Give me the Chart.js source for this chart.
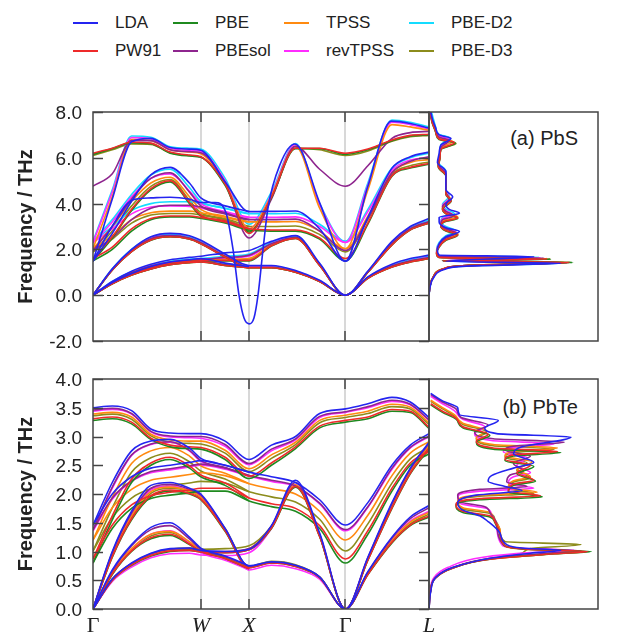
<!DOCTYPE html>
<html>
<head>
<meta charset="utf-8">
<title>PbS / PbTe phonons</title>
<script src="https://cdn.jsdelivr.net/npm/chart.js@4.4.1/dist/chart.umd.min.js"></script>
<style>
  html, body { margin: 0; background: #fff; }
  body { position: relative; width: 621px; height: 633px; overflow: hidden;
         font-family: "Liberation Sans", Arial, sans-serif; color: #222; }
  canvas { position: absolute; }
  .key { position: absolute; height: 20px; font-size: 17px; line-height: 20px; white-space: nowrap; }
  .key i { position: absolute; left: 0; top: 9px; width: 25px; height: 2px; }
  .key span { position: absolute; left: 42px; top: 0; }
  .tag { position: absolute; right: 43px; font-size: 20px; line-height: 20px; }
</style>
</head>
<body>
<div id="legend"></div>
<div class="tag" style="top:128px">(a) PbS</div>
<div class="tag" style="top:397px">(b) PbTe</div>
<canvas id="bandPbS" width="440" height="250" style="left:0;top:100px"></canvas>
<canvas id="dosPbS" width="190" height="250" style="left:420px;top:100px"></canvas>
<canvas id="bandPbTe" width="440" height="263" style="left:0;top:370px"></canvas>
<canvas id="dosPbTe" width="190" height="263" style="left:420px;top:370px"></canvas>
<script>
// functionals, in legend order (column by column)
const functionals = ['LDA', 'PW91', 'PBE', 'PBEsol', 'TPSS', 'revTPSS', 'PBE-D2', 'PBE-D3'];
const lineColors = ['#2424f0', '#ee2a2a', '#1f8a1f', '#8e258e', '#ff8a10', '#ff2cff', '#14dcff', '#8c8c1c'];

// high-symmetry path (distance along the path)
const symLabels = ['Γ', 'W', 'X', 'Γ', 'L'];
const symX = [0, 1.118, 1.618, 2.618, 3.484];
// sampling points along the path used for every branch
const kpath = [0, 0.2, 0.4, 0.6, 0.8, 1.0, 1.118, 1.37, 1.618, 1.85, 2.1, 2.35, 2.618, 2.85, 3.1, 3.29, 3.484];

// ---- PbS branches (THz): LO, TO1, TO2, LA, TA1, TA2 ----
const pbsLDA = [
  [1.48, 4.2, 6.7, 6.85, 6.45, 6.38, 6.33, 4.95, 3.65, 3.66, 3.68, 2.9, 1.48, 3.4, 5.55, 6.05, 6.25],
  [1.48, 2.7, 4.1, 5.25, 5.58, 4.9, 4.25, 3.9, 3.65],
  [0, 1.15, 2.0, 2.55, 2.7, 2.6, 2.4, 1.8, 1.3, 1.3, 1.08, 0.65, 0, 1.05, 2.35, 3.0, 3.35],
  [0, 0.6, 1.05, 1.35, 1.55, 1.65, 1.7, 1.85, 1.95, 2.35, 2.6, 1.4, 0, 0.8, 1.35, 1.6, 1.75],
  [0, 0.55, 0.95, 1.25, 1.45, 1.55, 1.6, 1.4, 1.25]
];
// LDA branch that goes soft (imaginary) at X
const pbsLdaSoftX = [0, 0.197, 0.404, 0.601, 0.798, 0.995, 1.118, 1.265, 1.379, 1.452, 1.514, 1.566, 1.618,
  1.669, 1.711, 1.763, 1.814, 1.939, 2.094, 2.354, 2.618, 2.846, 3.094, 3.291, 3.484];
const pbsLdaSoftF = [1.48, 3.0, 4.15, 4.25, 4.28, 4.2, 4.05, 4.05, 3.6, 2.0, 0.0, -1.0, -1.25,
  -1.0, 0.0, 2.0, 3.8, 5.7, 6.6, 4.0, 1.48, 4.7, 7.6, 7.5, 7.3];
const pbsPW91 = [
  [6.2, 6.42, 6.68, 6.64, 6.25, 6.12, 6.05, 4.85, 2.7, 4.28, 6.42, 6.42, 6.2, 6.38, 6.78, 6.98, 7.03],
  [1.6, 2.1, 2.9, 3.35, 3.46, 3.46, 3.4, 3.2, 2.9, 2.85, 2.85, 2.5, 1.6, 3.15, 5.22, 5.58, 5.75],
  [1.6, 2.55, 3.75, 4.65, 5.0, 4.05, 3.5, 3.25, 2.9],
  [0, 1.1, 1.9, 2.41, 2.55, 2.45, 2.25, 1.67, 1.2, 1.2, 1.0, 0.6, 0, 1.0, 2.2, 2.85, 3.15],
  [0, 0.55, 0.95, 1.22, 1.4, 1.48, 1.5, 1.52, 1.52, 2.16, 2.48, 1.3, 0, 0.74, 1.23, 1.45, 1.6],
  [0, 0.5, 0.88, 1.15, 1.33, 1.42, 1.45, 1.3, 1.2]
];
const pbsPBE = [
  [6.15, 6.4, 6.65, 6.62, 6.2, 6.08, 6.02, 4.8, 2.75, 4.25, 6.4, 6.4, 6.15, 6.35, 6.75, 6.95, 7.0],
  [1.5, 2.0, 2.8, 3.3, 3.42, 3.42, 3.35, 3.15, 2.85, 2.8, 2.8, 2.45, 1.5, 3.1, 5.2, 5.55, 5.72],
  [1.5, 2.5, 3.7, 4.6, 4.95, 4.0, 3.45, 3.2, 2.85],
  [0, 1.1, 1.9, 2.4, 2.55, 2.45, 2.25, 1.67, 1.2, 1.2, 1.0, 0.6, 0, 1.0, 2.2, 2.85, 3.15],
  [0, 0.55, 0.95, 1.22, 1.4, 1.48, 1.5, 1.5, 1.5, 2.15, 2.48, 1.3, 0, 0.74, 1.23, 1.45, 1.6],
  [0, 0.5, 0.88, 1.15, 1.33, 1.42, 1.45, 1.3, 1.2]
];
const pbsPBEsol = [
  [4.76, 5.3, 6.75, 6.75, 6.35, 6.27, 6.22, 4.9, 2.5, 4.2, 6.5, 5.5, 4.76, 5.65, 6.85, 7.1, 7.15],
  [1.95, 2.5, 3.3, 3.8, 3.93, 3.93, 3.85, 3.6, 3.3, 3.3, 3.32, 2.8, 1.95, 3.35, 5.35, 5.85, 6.05],
  [1.95, 3.0, 4.2, 5.1, 5.35, 4.5, 3.9, 3.55, 3.3],
  [0, 1.12, 1.95, 2.47, 2.6, 2.5, 2.3, 1.7, 1.22, 1.22, 1.02, 0.61, 0, 1.02, 2.25, 2.9, 3.22],
  [0, 0.57, 0.98, 1.27, 1.45, 1.53, 1.56, 1.65, 1.75, 2.25, 2.53, 1.34, 0, 0.76, 1.27, 1.5, 1.65],
  [0, 0.52, 0.9, 1.18, 1.37, 1.46, 1.49, 1.33, 1.22]
];
const pbsTPSS = [
  [2.03, 4.3, 6.8, 6.75, 6.35, 6.25, 6.18, 4.9, 2.9, 4.35, 6.5, 3.8, 2.03, 4.6, 7.45, 7.35, 7.2],
  [2.03, 2.6, 3.3, 3.6, 3.67, 3.67, 3.6, 3.4, 3.2, 3.2, 3.22, 2.8, 2.03, 3.45, 5.35, 5.8, 5.92],
  [2.03, 3.0, 4.1, 4.9, 5.15, 4.3, 3.75, 3.45, 3.2],
  [0, 1.11, 1.93, 2.45, 2.58, 2.48, 2.28, 1.7, 1.21, 1.21, 1.01, 0.61, 0, 1.01, 2.23, 2.88, 3.2],
  [0, 0.56, 0.97, 1.25, 1.43, 1.5, 1.53, 1.56, 1.6, 2.2, 2.5, 1.32, 0, 0.75, 1.25, 1.47, 1.62],
  [0, 0.51, 0.89, 1.16, 1.35, 1.44, 1.47, 1.31, 1.21]
];
const pbsRevTPSS = [
  [2.3, 4.5, 6.88, 6.82, 6.42, 6.33, 6.28, 5.0, 2.9, 4.4, 6.58, 3.95, 2.3, 4.8, 7.55, 7.45, 7.25],
  [2.3, 2.9, 3.55, 3.85, 3.9, 3.88, 3.8, 3.6, 3.4, 3.4, 3.42, 3.0, 2.3, 3.65, 5.45, 5.9, 6.0],
  [2.3, 3.2, 4.3, 5.1, 5.3, 4.55, 4.0, 3.65, 3.4],
  [0, 1.12, 1.95, 2.48, 2.6, 2.5, 2.3, 1.72, 1.23, 1.23, 1.03, 0.62, 0, 1.03, 2.26, 2.9, 3.22],
  [0, 0.58, 0.99, 1.27, 1.45, 1.53, 1.56, 1.62, 1.7, 2.25, 2.53, 1.33, 0, 0.76, 1.27, 1.5, 1.66],
  [0, 0.53, 0.91, 1.18, 1.37, 1.46, 1.49, 1.32, 1.23]
];
const pbsD2 = [
  [2.35, 4.6, 6.95, 6.9, 6.48, 6.42, 6.38, 5.1, 3.1, 4.5, 6.62, 4.0, 2.35, 4.9, 7.65, 7.55, 7.35],
  [2.35, 3.0, 3.7, 4.0, 4.08, 4.08, 4.0, 3.8, 3.56, 3.56, 3.58, 3.1, 2.35, 3.75, 5.55, 6.0, 6.2],
  [2.35, 3.3, 4.4, 5.25, 5.5, 4.7, 4.1, 3.8, 3.56],
  [0, 1.15, 2.0, 2.52, 2.65, 2.55, 2.35, 1.75, 1.25, 1.26, 1.05, 0.63, 0, 1.05, 2.3, 2.95, 3.28],
  [0, 0.6, 1.02, 1.3, 1.48, 1.57, 1.6, 1.7, 1.8, 2.3, 2.58, 1.36, 0, 0.78, 1.3, 1.55, 1.7],
  [0, 0.55, 0.93, 1.2, 1.4, 1.5, 1.53, 1.35, 1.25]
];
const pbsD3 = [
  [6.1, 6.35, 6.6, 6.58, 6.22, 6.1, 6.03, 4.85, 2.8, 4.3, 6.42, 6.35, 6.1, 6.3, 6.72, 6.92, 6.98],
  [1.89, 2.45, 3.15, 3.5, 3.57, 3.57, 3.5, 3.3, 3.0, 3.0, 3.02, 2.65, 1.89, 3.3, 5.28, 5.65, 5.82],
  [1.89, 2.8, 3.9, 4.75, 5.05, 4.15, 3.6, 3.35, 3.0],
  [0, 1.1, 1.91, 2.42, 2.56, 2.46, 2.26, 1.68, 1.2, 1.2, 1.0, 0.6, 0, 1.0, 2.21, 2.86, 3.17],
  [0, 0.55, 0.96, 1.23, 1.41, 1.49, 1.51, 1.53, 1.58, 2.18, 2.49, 1.31, 0, 0.75, 1.24, 1.46, 1.61],
  [0, 0.5, 0.88, 1.15, 1.34, 1.43, 1.46, 1.3, 1.2]
];

// ---- PbTe branches (THz): LO, TO1, TO2, LA, TA1, TA2 ----
const pbteLDA = [
  [3.5, 3.53, 3.45, 3.13, 3.06, 3.05, 3.05, 2.92, 2.6, 2.85, 3.0, 3.4, 3.48, 3.57, 3.68, 3.6, 3.33],
  [1.46, 2.0, 2.3, 2.45, 2.5, 2.55, 2.58, 2.5, 2.38, 2.3, 2.2, 1.9, 1.46, 1.85, 2.5, 2.85, 3.05],
  [1.46, 2.2, 2.75, 2.92, 2.95, 2.8, 2.62, 2.5, 2.38],
  [0, 1.0, 1.7, 2.15, 2.2, 2.1, 2.0, 1.4, 0.75, 0.82, 0.76, 0.56, 0, 0.9, 1.85, 2.45, 2.9],
  [0, 0.52, 0.8, 0.97, 1.05, 1.06, 1.02, 1.0, 1.04, 1.45, 2.24, 1.32, 0, 0.65, 1.25, 1.6, 1.8],
  [0, 0.68, 1.12, 1.42, 1.5, 1.25, 1.06, 0.92, 0.75]
];
const pbtePW91 = [
  [3.31, 3.34, 3.25, 2.97, 2.85, 2.82, 2.81, 2.64, 2.31, 2.54, 2.82, 3.18, 3.28, 3.34, 3.47, 3.44, 3.16],
  [0.87, 1.46, 1.81, 1.97, 2.03, 2.07, 2.1, 2.1, 1.93, 1.83, 1.75, 1.45, 0.87, 1.36, 2.1, 2.54, 2.74],
  [0.87, 1.62, 2.26, 2.54, 2.64, 2.49, 2.33, 2.19, 1.93],
  [0, 0.91, 1.57, 1.97, 2.07, 2.01, 1.91, 1.36, 0.72, 0.8, 0.74, 0.55, 0, 0.85, 1.76, 2.36, 2.8],
  [0, 0.5, 0.77, 0.93, 1.01, 1.02, 0.99, 0.98, 1.03, 1.41, 2.13, 1.26, 0, 0.6, 1.16, 1.46, 1.62],
  [0, 0.61, 1.01, 1.24, 1.3, 1.13, 1.0, 0.88, 0.7]
];
const pbtePBE = [
  [3.28, 3.31, 3.22, 2.95, 2.82, 2.79, 2.78, 2.6, 2.27, 2.5, 2.79, 3.15, 3.25, 3.31, 3.44, 3.42, 3.14],
  [0.8, 1.4, 1.75, 1.92, 1.98, 2.02, 2.05, 2.05, 1.88, 1.78, 1.7, 1.4, 0.8, 1.3, 2.05, 2.5, 2.7],
  [0.8, 1.55, 2.2, 2.5, 2.6, 2.45, 2.3, 2.15, 1.88],
  [0, 0.9, 1.55, 1.95, 2.05, 2.0, 1.9, 1.35, 0.72, 0.8, 0.74, 0.55, 0, 0.85, 1.75, 2.35, 2.78],
  [0, 0.5, 0.76, 0.92, 1.0, 1.02, 0.99, 0.98, 1.03, 1.4, 2.12, 1.26, 0, 0.6, 1.15, 1.45, 1.6],
  [0, 0.6, 1.0, 1.22, 1.28, 1.12, 1.0, 0.88, 0.7]
];
const pbtePBEsol = [
  [3.46, 3.49, 3.4, 3.09, 3.01, 3.0, 3.0, 2.86, 2.53, 2.78, 2.96, 3.35, 3.43, 3.52, 3.63, 3.56, 3.29],
  [1.38, 1.93, 2.23, 2.39, 2.44, 2.49, 2.52, 2.45, 2.32, 2.24, 2.14, 1.84, 1.38, 1.78, 2.45, 2.81, 3.01],
  [1.38, 2.12, 2.68, 2.87, 2.91, 2.76, 2.58, 2.46, 2.32],
  [0, 0.98, 1.67, 2.1, 2.17, 2.08, 1.98, 1.39, 0.74, 0.81, 0.75, 0.55, 0, 0.89, 1.83, 2.43, 2.88],
  [0, 0.52, 0.79, 0.96, 1.04, 1.05, 1.01, 1.0, 1.05, 1.44, 2.2, 1.3, 0, 0.64, 1.23, 1.57, 1.76],
  [0, 0.66, 1.1, 1.38, 1.45, 1.22, 1.04, 0.91, 0.74]
];
const pbteTPSS = [
  [3.39, 3.42, 3.34, 3.04, 2.94, 2.92, 2.92, 2.76, 2.44, 2.68, 2.9, 3.28, 3.37, 3.44, 3.56, 3.51, 3.24],
  [1.2, 1.76, 2.08, 2.24, 2.29, 2.34, 2.37, 2.32, 2.18, 2.09, 2.0, 1.7, 1.2, 1.63, 2.32, 2.71, 2.91],
  [1.2, 1.94, 2.53, 2.75, 2.81, 2.66, 2.49, 2.36, 2.18],
  [0, 0.95, 1.62, 2.04, 2.12, 2.05, 1.95, 1.37, 0.73, 0.81, 0.75, 0.55, 0, 0.87, 1.8, 2.4, 2.84],
  [0, 0.51, 0.78, 0.94, 1.02, 1.03, 1.0, 0.99, 1.05, 1.42, 2.16, 1.28, 0, 0.62, 1.19, 1.51, 1.68],
  [0, 0.63, 1.05, 1.3, 1.35, 1.17, 1.02, 0.9, 0.72]
];
const pbteRevTPSS = [
  [3.44, 3.47, 3.39, 3.08, 2.99, 2.98, 2.97, 2.83, 2.51, 2.75, 2.94, 3.33, 3.42, 3.5, 3.61, 3.55, 3.28],
  [1.36, 1.91, 2.22, 2.37, 2.42, 2.47, 2.5, 2.43, 2.31, 2.22, 2.13, 1.83, 1.36, 1.77, 2.43, 2.8, 3.0],
  [1.36, 2.1, 2.67, 2.86, 2.9, 2.75, 2.57, 2.45, 2.31],
  [0, 0.96, 1.64, 2.07, 2.14, 2.06, 1.96, 1.38, 0.68, 0.76, 0.7, 0.52, 0, 0.88, 1.81, 2.41, 2.86],
  [0, 0.48, 0.73, 0.89, 0.96, 0.97, 0.94, 0.93, 0.98, 1.4, 2.16, 1.28, 0, 0.62, 1.2, 1.53, 1.7],
  [0, 0.62, 1.04, 1.3, 1.36, 1.15, 0.98, 0.85, 0.68]
];
const pbteD3 = [
  [3.36, 3.39, 3.3, 3.01, 2.9, 2.88, 2.87, 2.71, 2.39, 2.62, 2.86, 3.24, 3.33, 3.4, 3.52, 3.48, 3.21],
  [1.01, 1.59, 1.93, 2.09, 2.15, 2.19, 2.22, 2.19, 2.04, 1.95, 1.86, 1.56, 1.01, 1.48, 2.19, 2.61, 2.81],
  [1.01, 1.76, 2.38, 2.63, 2.71, 2.56, 2.4, 2.26, 2.04],
  [0, 0.93, 1.6, 2.01, 2.1, 2.04, 1.94, 1.4, 0.74, 0.83, 0.77, 0.56, 0, 0.86, 1.78, 2.38, 2.82],
  [0, 0.52, 0.79, 0.95, 1.04, 1.06, 1.04, 1.05, 1.1, 1.44, 2.14, 1.27, 0, 0.61, 1.17, 1.48, 1.65],
  [0, 0.62, 1.03, 1.27, 1.33, 1.15, 1.02, 0.9, 0.73]
];

// ---- phonon DOS, [frequency THz, DOS in panel units] ----
const dosPbsLDA = [[0,0],[0.35,0.006],[0.8,0.03],[1.12,0.09],[1.27,0.22],[1.39,0.78],[1.48,0.1],[1.68,0.62],[1.75,0.06],[1.95,0.05],[2.25,0.06],[2.55,0.1],[2.78,0.18],[2.95,0.1],[3.2,0.06],[3.4,0.06],[3.58,0.18],[3.75,0.12],[3.95,0.1],[4.3,0.14],[4.6,0.1],[5.0,0.1],[5.4,0.1],[5.8,0.05],[6.2,0.06],[6.55,0.07],[6.85,0.13],[7.0,0.06],[7.3,0.04],[7.7,0.02],[8.1,0.008]];
const dosPbsPW91 = [[0,0],[0.35,0.005],[0.8,0.025],[1.15,0.085],[1.3,0.22],[1.43,0.83],[1.5,0.08],[1.58,0.7],[1.65,0.06],[1.82,0.045],[2.12,0.06],[2.42,0.1],[2.64,0.17],[2.82,0.1],[3.02,0.07],[3.22,0.09],[3.37,0.17],[3.57,0.1],[3.77,0.08],[4.12,0.13],[4.42,0.1],[4.82,0.1],[5.22,0.1],[5.62,0.055],[6.02,0.065],[6.37,0.07],[6.67,0.15],[6.82,0.06],[7.12,0.04],[7.52,0.02],[7.92,0.008]];
const dosPbsPBE = [[0,0],[0.35,0.005],[0.8,0.025],[1.15,0.085],[1.3,0.22],[1.43,0.85],[1.5,0.08],[1.57,0.72],[1.64,0.06],[1.8,0.045],[2.1,0.06],[2.4,0.1],[2.62,0.17],[2.8,0.1],[3.0,0.07],[3.2,0.09],[3.35,0.17],[3.55,0.1],[3.75,0.08],[4.1,0.13],[4.4,0.1],[4.8,0.1],[5.2,0.1],[5.6,0.055],[6.0,0.065],[6.35,0.07],[6.65,0.155],[6.8,0.06],[7.1,0.04],[7.5,0.02],[7.9,0.008]];
const dosPbsPBEsol = [[0,0],[0.35,0.005],[0.8,0.027],[1.14,0.087],[1.29,0.22],[1.42,0.82],[1.5,0.08],[1.62,0.68],[1.69,0.06],[1.88,0.045],[2.2,0.06],[2.5,0.1],[2.72,0.16],[2.9,0.1],[3.1,0.07],[3.3,0.08],[3.46,0.15],[3.66,0.1],[3.86,0.08],[4.2,0.12],[4.5,0.1],[4.9,0.1],[5.3,0.1],[5.7,0.055],[6.1,0.065],[6.45,0.07],[6.76,0.12],[6.9,0.06],[7.2,0.04],[7.6,0.02],[8.0,0.008]];
const dosPbsTPSS = [[0,0],[0.35,0.005],[0.8,0.026],[1.15,0.086],[1.3,0.22],[1.43,0.8],[1.5,0.08],[1.6,0.7],[1.67,0.06],[1.86,0.045],[2.17,0.06],[2.47,0.1],[2.69,0.17],[2.87,0.1],[3.07,0.07],[3.27,0.09],[3.42,0.17],[3.62,0.1],[3.82,0.08],[4.17,0.13],[4.47,0.1],[4.87,0.1],[5.27,0.1],[5.67,0.055],[6.07,0.065],[6.42,0.07],[6.72,0.14],[6.87,0.06],[7.17,0.04],[7.57,0.02],[7.97,0.008]];
const dosPbsRevTPSS = [[0,0],[0.35,0.005],[0.8,0.027],[1.14,0.087],[1.29,0.22],[1.42,0.8],[1.5,0.08],[1.63,0.66],[1.7,0.06],[1.92,0.045],[2.24,0.06],[2.54,0.1],[2.76,0.16],[2.94,0.1],[3.14,0.07],[3.34,0.08],[3.5,0.14],[3.7,0.1],[3.9,0.08],[4.25,0.12],[4.55,0.1],[4.95,0.1],[5.35,0.1],[5.75,0.055],[6.15,0.065],[6.5,0.07],[6.8,0.12],[6.95,0.06],[7.25,0.04],[7.65,0.02],[8.05,0.008]];
const dosPbsD2 = [[0,0],[0.35,0.006],[0.8,0.028],[1.14,0.088],[1.28,0.22],[1.41,0.8],[1.49,0.08],[1.66,0.65],[1.73,0.06],[1.97,0.045],[2.3,0.06],[2.6,0.1],[2.82,0.16],[3.0,0.1],[3.2,0.07],[3.4,0.08],[3.56,0.15],[3.76,0.1],[3.96,0.08],[4.32,0.12],[4.62,0.1],[5.02,0.1],[5.42,0.1],[5.82,0.055],[6.22,0.065],[6.57,0.07],[6.88,0.12],[7.02,0.06],[7.32,0.04],[7.72,0.025],[8.12,0.01]];
const dosPbsD3 = [[0,0],[0.35,0.005],[0.8,0.025],[1.15,0.085],[1.3,0.22],[1.44,0.84],[1.51,0.08],[1.58,0.72],[1.65,0.06],[1.83,0.045],[2.14,0.06],[2.44,0.1],[2.66,0.17],[2.84,0.1],[3.04,0.07],[3.24,0.09],[3.39,0.17],[3.59,0.1],[3.79,0.08],[4.14,0.13],[4.44,0.1],[4.84,0.1],[5.24,0.1],[5.64,0.055],[6.04,0.065],[6.39,0.07],[6.62,0.16],[6.84,0.06],[7.14,0.04],[7.54,0.02],[7.94,0.008]];

const dosPbteLDA = [[0,0],[0.3,0.01],[0.55,0.04],[0.72,0.14],[0.89,0.38],[0.97,0.6],[1.02,0.78],[1.06,0.55],[1.12,0.46],[1.32,0.42],[1.52,0.35],[1.62,0.3],[1.72,0.2],[1.85,0.17],[1.98,0.28],[2.06,0.55],[2.13,0.45],[2.22,0.35],[2.32,0.37],[2.45,0.5],[2.55,0.62],[2.7,0.5],[2.82,0.55],[2.99,0.84],[3.05,0.4],[3.15,0.33],[3.28,0.41],[3.38,0.18],[3.5,0.17],[3.62,0.08],[3.75,0.01]];
const dosPbtePW91 = [[0,0],[0.3,0.008],[0.53,0.035],[0.7,0.13],[0.87,0.37],[0.96,0.74],[1.0,0.94],[1.04,0.58],[1.1,0.45],[1.32,0.42],[1.52,0.39],[1.62,0.36],[1.7,0.2],[1.82,0.16],[1.92,0.3],[1.97,0.66],[2.05,0.47],[2.17,0.5],[2.24,0.62],[2.37,0.52],[2.5,0.6],[2.6,0.45],[2.68,0.5],[2.74,0.76],[2.8,0.38],[2.92,0.28],[3.04,0.35],[3.17,0.2],[3.32,0.16],[3.44,0.08],[3.57,0.01]];
const dosPbtePBE = [[0,0],[0.3,0.008],[0.53,0.035],[0.7,0.13],[0.87,0.37],[0.96,0.75],[1.0,0.96],[1.04,0.58],[1.1,0.45],[1.3,0.42],[1.5,0.39],[1.6,0.36],[1.68,0.2],[1.8,0.16],[1.9,0.3],[1.95,0.67],[2.03,0.47],[2.15,0.5],[2.22,0.63],[2.35,0.52],[2.48,0.62],[2.58,0.45],[2.66,0.5],[2.72,0.78],[2.78,0.38],[2.9,0.28],[3.02,0.36],[3.15,0.2],[3.3,0.16],[3.42,0.08],[3.55,0.01]];
const dosPbtePBEsol = [[0,0],[0.3,0.009],[0.54,0.038],[0.71,0.13],[0.88,0.37],[0.97,0.7],[1.01,0.9],[1.05,0.55],[1.12,0.44],[1.48,0.4],[1.68,0.36],[1.78,0.33],[1.86,0.19],[1.98,0.17],[2.08,0.3],[2.13,0.58],[2.21,0.46],[2.33,0.48],[2.4,0.56],[2.53,0.5],[2.66,0.6],[2.76,0.45],[2.84,0.52],[2.9,0.8],[2.96,0.38],[3.08,0.27],[3.2,0.35],[3.33,0.19],[3.48,0.16],[3.6,0.08],[3.73,0.01]];
const dosPbteTPSS = [[0,0],[0.3,0.008],[0.53,0.035],[0.7,0.13],[0.87,0.36],[0.96,0.74],[1.0,0.93],[1.04,0.57],[1.1,0.45],[1.38,0.42],[1.58,0.38],[1.68,0.36],[1.76,0.2],[1.88,0.17],[1.98,0.3],[2.03,0.64],[2.11,0.47],[2.23,0.5],[2.3,0.6],[2.43,0.52],[2.56,0.61],[2.66,0.45],[2.74,0.5],[2.8,0.76],[2.86,0.38],[2.98,0.28],[3.1,0.34],[3.23,0.2],[3.38,0.15],[3.5,0.08],[3.63,0.01]];
const dosPbteRevTPSS = [[0,0],[0.3,0.007],[0.55,0.03],[0.72,0.11],[0.9,0.32],[0.98,0.6],[1.02,0.86],[1.06,0.52],[1.12,0.43],[1.45,0.4],[1.65,0.37],[1.75,0.34],[1.83,0.19],[1.95,0.17],[2.05,0.3],[2.1,0.62],[2.18,0.47],[2.3,0.5],[2.37,0.6],[2.5,0.52],[2.63,0.58],[2.73,0.44],[2.81,0.5],[2.87,0.74],[2.93,0.37],[3.05,0.27],[3.17,0.33],[3.3,0.2],[3.45,0.15],[3.57,0.08],[3.7,0.01]];
const dosPbteD3 = [[0,0],[0.3,0.008],[0.53,0.033],[0.7,0.12],[0.87,0.34],[0.97,0.55],[1.05,0.6],[1.12,0.9],[1.17,0.45],[1.36,0.42],[1.56,0.39],[1.66,0.36],[1.74,0.2],[1.86,0.17],[1.96,0.3],[2.01,0.62],[2.09,0.47],[2.21,0.5],[2.28,0.6],[2.41,0.52],[2.54,0.58],[2.64,0.45],[2.72,0.5],[2.78,0.74],[2.84,0.38],[2.96,0.28],[3.08,0.34],[3.21,0.2],[3.36,0.15],[3.48,0.08],[3.61,0.01]];

// per-functional lookups (null = not computed for that compound)
const pbsBands = [pbsLDA, pbsPW91, pbsPBE, pbsPBEsol, pbsTPSS, pbsRevTPSS, pbsD2, pbsD3];
const pbteBands = [pbteLDA, pbtePW91, pbtePBE, pbtePBEsol, pbteTPSS, pbteRevTPSS, null, pbteD3];
const pbsDos = [dosPbsLDA, dosPbsPW91, dosPbsPBE, dosPbsPBEsol, dosPbsTPSS, dosPbsRevTPSS, dosPbsD2, dosPbsD3];
const pbteDos = [dosPbteLDA, dosPbtePW91, dosPbtePBE, dosPbtePBEsol, dosPbteTPSS, dosPbteRevTPSS, null, dosPbteD3];

// ---- legend ----
const legendCols = [73, 173, 284, 409];
const legendRows = [13, 41];
const legendBox = document.getElementById('legend');
functionals.forEach((name, i) => {
  const el = document.createElement('div');
  el.className = 'key';
  el.style.left = legendCols[Math.floor(i / 2)] + 'px';
  el.style.top = legendRows[i % 2] + 'px';
  el.innerHTML = '<i style="background:' + lineColors[i] + '"></i><span>' + name + '</span>';
  legendBox.appendChild(el);
});

const sansFont = '"Liberation Sans", Arial, sans-serif';
const curveWidth = 1.6;

// frame, inner ticks, y tick labels, symmetry guides and the zero line
const framePlugin = {
  id: 'frame',
  beforeDatasetsDraw(chart, args, o) {
    const { ctx, chartArea: a } = chart;
    ctx.save();
    if (o.guides) {
      ctx.strokeStyle = '#d8d8d8';
      ctx.lineWidth = 2;
      o.guides.forEach(v => {
        const px = Math.round(chart.scales.x.getPixelForValue(v));
        ctx.beginPath(); ctx.moveTo(px, a.top); ctx.lineTo(px, a.bottom); ctx.stroke();
      });
    }
    if (o.zeroLine) {
      const py = Math.round(chart.scales.y.getPixelForValue(0)) + 0.5;
      ctx.strokeStyle = '#222';
      ctx.lineWidth = 1.2;
      ctx.setLineDash([4, 3]);
      ctx.beginPath(); ctx.moveTo(a.left, py); ctx.lineTo(a.right, py); ctx.stroke();
    }
    ctx.restore();
  },
  afterDatasetsDraw(chart, args, o) {
    const { ctx, chartArea: a } = chart;
    ctx.save();
    ctx.strokeStyle = '#444';
    ctx.lineWidth = 1.5;
    const seg = (x1, y1, x2, y2) => { ctx.beginPath(); ctx.moveTo(x1, y1); ctx.lineTo(x2, y2); ctx.stroke(); };
    if (o.ticks) {
      const ys = chart.scales.y;
      ctx.fillStyle = '#222';
      ctx.font = '19px ' + sansFont;
      ctx.textAlign = 'right';
      ctx.textBaseline = 'middle';
      ys.ticks.forEach(t => {
        const py = Math.round(ys.getPixelForValue(t.value)) + 0.5;
        seg(a.left, py, a.left + 10, py);
        seg(a.right - 10, py, a.right, py);
        ctx.fillText(t.value.toFixed(1), a.left - 11, py + 1);
      });
      (o.guides || []).forEach(v => {
        const px = Math.round(chart.scales.x.getPixelForValue(v));
        seg(px, a.top, px, a.top + 10);
        seg(px, a.bottom - 10, px, a.bottom);
      });
    }
    ctx.strokeRect(a.left, a.top, a.right - a.left, a.bottom - a.top);
    ctx.restore();
  }
};
Chart.register(framePlugin);

function bandDatasets(bands, extra) {
  const sets = [];
  bands.forEach((rows, i) => {
    if (!rows) return;
    const curves = rows.map(row => row.map((f, k) => ({ x: kpath[k], y: f })));
    if (extra && extra[i]) curves.push(extra[i]);
    curves.forEach(pts => sets.push({
      data: pts, borderColor: lineColors[i], borderWidth: curveWidth,
      pointRadius: 0, fill: false, cubicInterpolationMode: 'monotone'
    }));
  });
  return sets;
}

function dosDatasets(curves) {
  const sets = [];
  curves.forEach((pts, i) => {
    if (!pts) return;
    sets.push({
      data: pts.map(([f, d]) => ({ x: d, y: f })), borderColor: lineColors[i], borderWidth: curveWidth,
      pointRadius: 0, fill: false, cubicInterpolationMode: 'monotone'
    });
  });
  return sets;
}

function bandChart(id, bands, extra, yMin, yMax, step, pad, withLabels, zeroLine) {
  const xAxis = {
    type: 'linear', min: 0, max: symX[4], display: withLabels,
    grid: { display: false, drawTicks: false }, border: { display: false },
    afterBuildTicks: s => { s.ticks = symX.map(v => ({ value: v })); },
    ticks: {
      autoSkip: false, maxRotation: 0, padding: 4, color: '#222',
      callback: (v, i) => symLabels[i],
      font: c => ({ family: '"Liberation Serif", "DejaVu Serif", serif', size: 22,
        style: symLabels[c.index] === 'Γ' ? 'normal' : 'italic' })
    }
  };
  if (withLabels) xAxis.afterFit = s => { s.height = 24; };
  new Chart(document.getElementById(id), {
    type: 'line',
    data: { datasets: bandDatasets(bands, extra) },
    options: {
      responsive: false, animation: false,
      layout: { padding: pad },
      plugins: {
        legend: { display: false }, tooltip: { enabled: false },
        frame: { guides: symX.slice(1, 4), ticks: true, zeroLine: zeroLine }
      },
      scales: {
        x: xAxis,
        y: {
          min: yMin, max: yMax,
          grid: { display: false, drawTicks: false }, border: { display: false },
          afterFit: s => { s.width = 93; },
          // tick labels are painted by the frame plugin
          ticks: { stepSize: step, display: false },
          title: { display: true, text: 'Frequency / THz', color: '#222',
            font: { family: sansFont, size: 20, weight: 'bold' },
            padding: { top: 14, bottom: 0 } }
        }
      }
    }
  });
}

function dosChart(id, curves, yMin, yMax, pad) {
  new Chart(document.getElementById(id), {
    type: 'line',
    data: { datasets: dosDatasets(curves) },
    options: {
      responsive: false, animation: false, indexAxis: 'y',
      layout: { padding: pad },
      plugins: { legend: { display: false }, tooltip: { enabled: false }, frame: {} },
      scales: {
        x: { type: 'linear', min: 0, max: 1, display: false },
        y: { type: 'linear', min: yMin, max: yMax, display: false }
      }
    }
  });
}

const ldaSoft = pbsLdaSoftX.map((x, k) => ({ x: x, y: pbsLdaSoftF[k] }));
bandChart('bandPbS', pbsBands, { 0: ldaSoft }, -2, 8, 2, { top: 12, right: 11, bottom: 9, left: 0 }, false, true);
dosChart('dosPbS', pbsDos, -2, 8, { top: 12, right: 12, bottom: 9, left: 9 });
bandChart('bandPbTe', pbteBands, null, 0, 4, 0.5, { top: 9, right: 11, bottom: 0, left: 0 }, true, false);
dosChart('dosPbTe', pbteDos, 0, 4, { top: 9, right: 12, bottom: 24, left: 9 });
</script>
</body>
</html>
